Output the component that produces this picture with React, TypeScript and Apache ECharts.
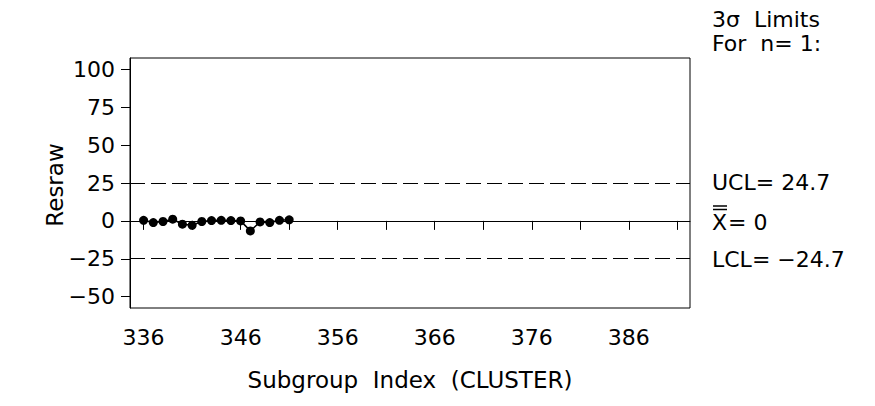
import React, { useEffect, useRef } from "react";
import * as echarts from "echarts";

const subgroups = [336, 337, 338, 339, 340, 341, 342, 343, 344, 345, 346, 347, 348, 349, 350, 351];
const resraw = [0.4, -1.1, -0.4, 1.1, -2.2, -2.9, -0.4, 0.2, 0.4, 0.2, 0, -6.6, -0.7, -1.1, 0.4, 0.7];
const UCL = 24.7;
const CENTER = 0;
const LCL = -24.7;
const yTicks = [-50, -25, 0, 25, 50, 75, 100];
const xTickValues = [336, 341, 346, 351, 356, 361, 366, 371, 376, 381, 386, 391];
const xLabelValues = [336, 346, 356, 366, 376, 386];
const limitTexts = ["3σ  Limits", "For  n= 1:"];
const ucLabel = "UCL= 24.7";
const clLabel = "X";
const clValueLabel = "= 0";
const lcLabel = "LCL= \u221224.7";

const FONT = "'DejaVu Sans', 'Liberation Sans', Arial, sans-serif";

export default function App() {
  const ref = useRef<HTMLDivElement>(null);
  useEffect(() => {
    if (!ref.current) return;
    const chart = echarts.init(ref.current, null, { renderer: "svg" });
    const fmt = (v: number) => (v < 0 ? "\u2212" + Math.abs(v) : String(v));
    chart.setOption({
      animation: false,
      backgroundColor: "#fff",
      grid: {
        left: 130,
        right: 185,
        top: 58,
        bottom: 98,
        show: true,
        borderColor: "#000",
        borderWidth: 1,
        backgroundColor: "transparent",
      },
      xAxis: {
        type: "value",
        min: 334.6,
        max: 392.3,
        axisLine: { show: true, lineStyle: { color: "#000", width: 1 } },
        axisTick: { show: true, inside: false, length: 9, customValues: xTickValues, lineStyle: { color: "#000" } },
        axisLabel: {
          show: true,
          customValues: xLabelValues,
          margin: 18,
          color: "#000",
          fontSize: 22,
          fontFamily: FONT,
        },
        splitLine: { show: false },
      },
      yAxis: {
        type: "value",
        min: -57.5,
        max: 107.5,
        axisLine: { show: true, lineStyle: { color: "#000", width: 1 } },
        axisTick: { show: true, inside: false, length: 9, customValues: yTicks, lineStyle: { color: "#000" } },
        axisLabel: {
          show: true,
          customValues: yTicks,
          margin: 15,
          color: "#000",
          fontSize: 22,
          fontFamily: FONT,
          formatter: (v: number) => fmt(v),
        },
        splitLine: { show: false },
      },
      series: [
        {
          type: "line",
          data: subgroups.map((x, i) => [x, resraw[i]]),
          symbol: "circle",
          symbolSize: 9,
          itemStyle: { color: "#000" },
          lineStyle: { color: "#000", width: 1.5 },
          z: 5,
          markLine: {
            silent: true,
            symbol: "none",
            label: { show: false },
            data: [
              { yAxis: UCL, lineStyle: { color: "#000", width: 1, type: [15, 6] } },
              { yAxis: CENTER, lineStyle: { color: "#000", width: 1, type: "solid" } },
              { yAxis: LCL, lineStyle: { color: "#000", width: 1, type: [15, 6] } },
            ],
          },
        },
      ],
      graphic: [
        {
          type: "text",
          x: 55,
          y: 185,
          rotation: Math.PI / 2,
          style: { text: "Resraw", fontSize: 23, fontFamily: FONT, fill: "#000", align: "center", verticalAlign: "middle" },
        },
        {
          type: "text",
          x: 410,
          y: 380,
          style: { text: "Subgroup  Index  (CLUSTER)", fontSize: 23, fontFamily: FONT, fill: "#000", align: "center", verticalAlign: "middle" },
        },
        {
          type: "text",
          x: 712,
          y: 19,
          style: { text: limitTexts[0], fontSize: 22, fontFamily: FONT, fill: "#000", align: "left", verticalAlign: "middle" },
        },
        {
          type: "text",
          x: 712,
          y: 43,
          style: { text: limitTexts[1], fontSize: 22, fontFamily: FONT, fill: "#000", align: "left", verticalAlign: "middle" },
        },
        {
          type: "text",
          x: 712,
          y: 182,
          style: { text: ucLabel, fontSize: 22, fontFamily: FONT, fill: "#000", align: "left", verticalAlign: "middle" },
        },
        {
          type: "text",
          x: 712,
          y: 222,
          style: { text: clLabel, fontSize: 22, fontFamily: FONT, fill: "#000", align: "left", verticalAlign: "middle" },
        },
        {
          type: "text",
          x: 728,
          y: 222,
          style: { text: clValueLabel, fontSize: 22, fontFamily: FONT, fill: "#000", align: "left", verticalAlign: "middle" },
        },
        { type: "line", shape: { x1: 713, y1: 206, x2: 727, y2: 206 }, style: { stroke: "#000", lineWidth: 1.5 } },
        { type: "line", shape: { x1: 713, y1: 209.5, x2: 727, y2: 209.5 }, style: { stroke: "#000", lineWidth: 1.5 } },
        {
          type: "text",
          x: 712,
          y: 259,
          style: { text: lcLabel, fontSize: 22, fontFamily: FONT, fill: "#000", align: "left", verticalAlign: "middle" },
        },
      ],
    });
    return () => chart.dispose();
  }, []);
  return <div ref={ref} style={{ position: "fixed", left: 0, top: 0, width: 875, height: 406, background: "#fff" }} />;
}
